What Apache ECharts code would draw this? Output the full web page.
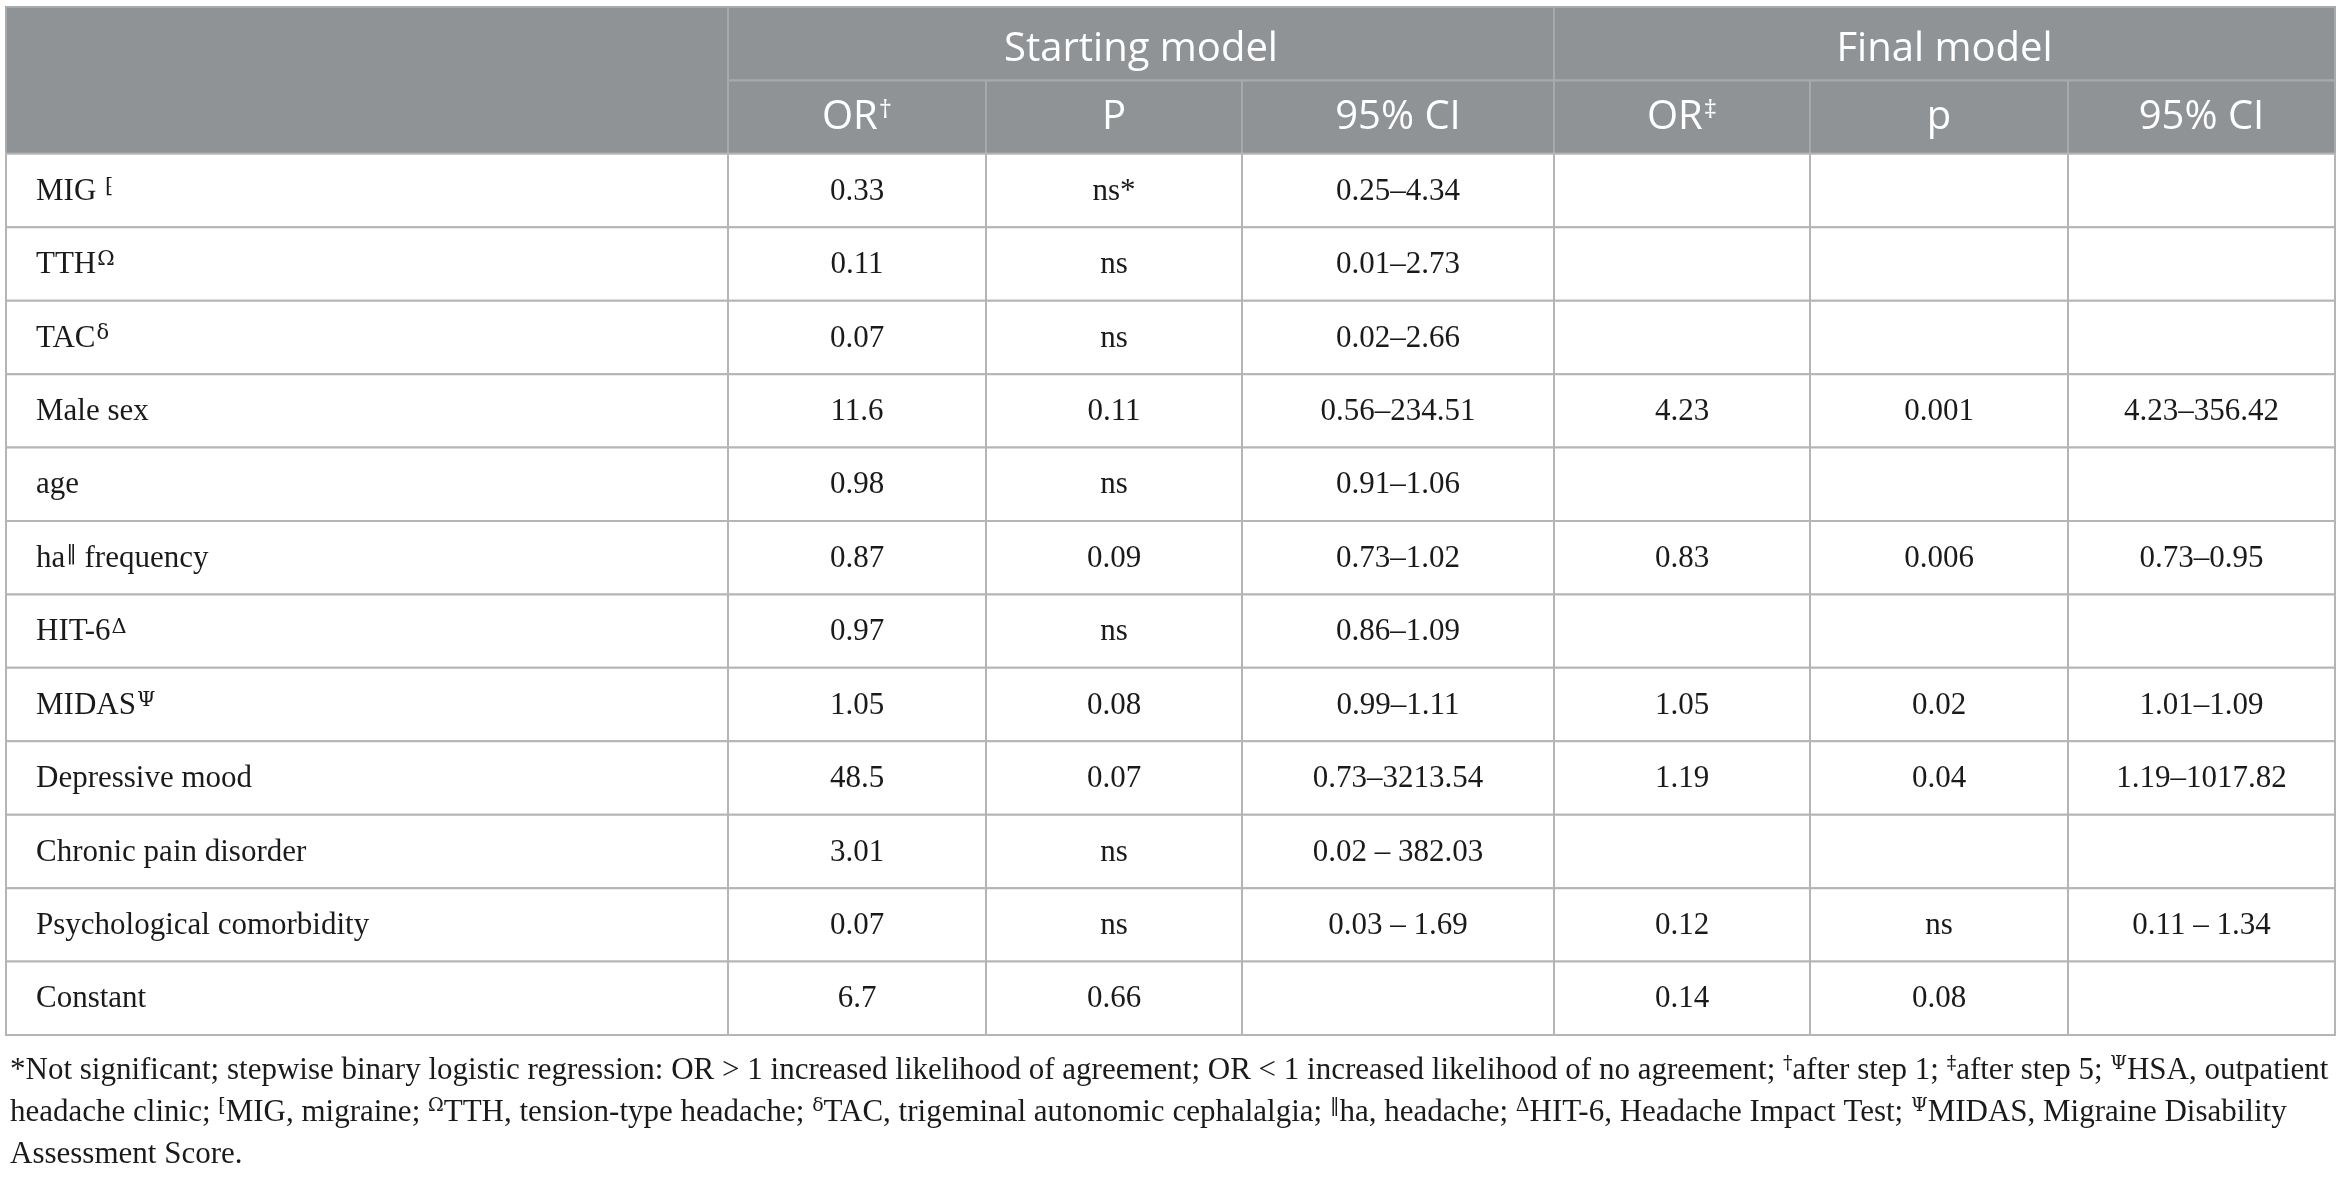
<!DOCTYPE html>
<html>
<head>
<meta charset="UTF-8">
<title>ECharts</title>
<script src="https://cdn.jsdelivr.net/npm/echarts@6/dist/echarts.min.js"></script>
</head>
<body style="margin:0;background:#fff">
<div id="main" style="width:2338px;height:1180px"></div>
<script>
// row labels ({s|..} = superscript mark)
var rowLabels = ['MIG {s|⁅}', 'TTH{s|Ω}', 'TAC{s|δ}', 'Male sex', 'age', 'ha{s|‖} frequency',
  'HIT-6{s|Δ}', 'MIDAS{s|Ψ}', 'Depressive mood', 'Chronic pain disorder',
  'Psychological comorbidity', 'Constant'];
var groupNames = ['Starting model', 'Final model'];
var colNames = ['OR{s|†}', 'P', '95% CI', 'OR{s|‡}', 'p', '95% CI'];

var startOR = ['0.33', '0.11', '0.07', '11.6', '0.98', '0.87', '0.97', '1.05', '48.5', '3.01', '0.07', '6.7'];
var startP = ['ns*', 'ns', 'ns', '0.11', 'ns', '0.09', 'ns', '0.08', '0.07', 'ns', 'ns', '0.66'];
var startCI = ['0.25–4.34', '0.01–2.73', '0.02–2.66', '0.56–234.51', '0.91–1.06', '0.73–1.02',
  '0.86–1.09', '0.99–1.11', '0.73–3213.54', '0.02 – 382.03', '0.03 – 1.69', ''];
var finalOR = ['', '', '', '4.23', '', '0.83', '', '1.05', '1.19', '', '0.12', '0.14'];
var finalP = ['', '', '', '0.001', '', '0.006', '', '0.02', '0.04', '', 'ns', '0.08'];
var finalCI = ['', '', '', '4.23–356.42', '', '0.73–0.95', '', '1.01–1.09', '1.19–1017.82', '', '0.11 – 1.34', ''];

var footLines = [
  '*Not significant; stepwise binary logistic regression: OR > 1 increased likelihood of agreement; OR < 1 increased likelihood of no agreement; {s|†}after step 1; {s|‡}after step 5; {s|Ψ}HSA, outpatient',
  'headache clinic; {s|⁅}MIG, migraine; {s|Ω}TTH, tension-type headache; {s|δ}TAC, trigeminal autonomic cephalalgia; {s|‖}ha, headache; {s|Δ}HIT-6, Headache Impact Test; {s|Ψ}MIDAS, Migraine Disability',
  'Assessment Score.'
];

// column widths (layout only)
var colW = [722, 258, 256, 312, 256, 258, 267];
var edges = [0];
colW.forEach(function (w) { edges.push(edges[edges.length - 1] + w); });

var HEAD_BG = '#8f9396';
var HEAD_LINE = '#a7aaac';
var LINE = '#b5b5b5';
var INK = '#1a1a1a';
var SERIF = '"Liberation Serif", "DejaVu Serif", serif';
var SUPF = '"DejaVu Serif", serif';
var SANS = '"Open Sans", "Lato", sans-serif';

var yCats = ['h0', 'h1'].concat(rowLabels.map(function (l, i) { return 'r' + i; }));

// build cells
var cells = [];
cells.push({ c0: 0, c1: 0, r0: 0, r1: 1, text: '', head: true });
groupNames.forEach(function (g, i) {
  cells.push({ c0: 1 + i * 3, c1: 3 + i * 3, r0: 0, r1: 0, text: g, head: true, dy: 6 });
});
colNames.forEach(function (n, i) {
  cells.push({ c0: 1 + i, c1: 1 + i, r0: 1, r1: 1, text: n, head: true, dy: 0 });
});
var cols = [startOR, startP, startCI, finalOR, finalP, finalCI];
rowLabels.forEach(function (lab, r) {
  cells.push({ c0: 0, c1: 0, r0: r + 2, r1: r + 2, text: lab, left: true, dy: 1 });
  cols.forEach(function (arr, k) {
    cells.push({ c0: k + 1, c1: k + 1, r0: r + 2, r1: r + 2, text: arr[r], dy: 1 });
  });
});

var headRich = { s: { fontFamily: SANS, fontSize: 26, fill: '#fff', verticalAlign: 'top', padding: [0, 0, 14, 1] } };
var bodyRich = { s: { fontFamily: SUPF, fontSize: 21, fill: INK, verticalAlign: 'top', padding: [0, 0, 9, 1] } };

function renderItem(params, api) {
  var c = cells[params.dataIndex];
  var pA = api.coord([api.value(0), api.value(2)]);
  var pB = api.coord([api.value(1), api.value(3)]);
  var bh = api.size([0, 1])[1];
  var x = pA[0], w = pB[0] - pA[0];
  var y = pA[1] - bh / 2, h = pB[1] + bh / 2 - y;
  return {
    type: 'group',
    children: [{
      type: 'rect',
      shape: { x: x, y: y, width: w, height: h },
      style: { fill: c.head ? HEAD_BG : '#fff', stroke: c.head ? HEAD_LINE : LINE, lineWidth: 2 }
    }, {
      type: 'text',
      x: c.left ? x + 30 : x + w / 2,
      y: y + h / 2 + (c.dy || 0),
      style: {
        text: c.text,
        fill: c.head ? '#fff' : INK,
        fontFamily: c.head ? SANS : SERIF,
        fontSize: c.head ? 40 : 31,
        align: c.left ? 'left' : 'center',
        verticalAlign: 'middle',
        rich: c.head ? headRich : bodyRich
      }
    }]
  };
}

var myChart = echarts.init(document.getElementById('main'));

var option = {
  animation: false,
  grid: { left: 6, right: 3, top: 7, bottom: 145 },
  xAxis: { type: 'value', min: 0, max: edges[edges.length - 1], show: false },
  yAxis: { type: 'category', data: yCats, inverse: true, show: false },
  graphic: footLines.map(function (t, i) {
    return {
      type: 'text',
      left: 10,
      top: 1055 + i * 42,
      style: {
        text: t,
        fill: INK,
        fontFamily: SERIF,
        fontSize: 31,
        rich: { s: { fontFamily: SUPF, fontSize: 19, fill: INK, verticalAlign: 'top', padding: [0, 0, 9, 0] } }
      }
    };
  }),
  series: [{
    type: 'custom',
    renderItem: renderItem,
    encode: { x: [0, 1], y: [2, 3] },
    data: cells.map(function (c) { return [edges[c.c0], edges[c.c1 + 1], c.r0, c.r1]; })
  }]
};

myChart.setOption(option);
</script>
</body>
</html>
